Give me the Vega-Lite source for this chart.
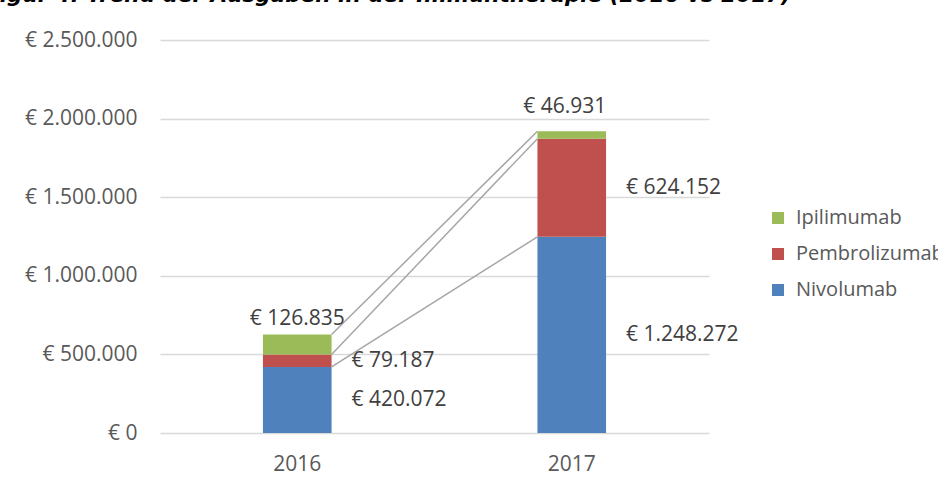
{
  "$schema": "https://vega.github.io/schema/vega-lite/v6.json",
  "autosize": "none",
  "width": 549,
  "height": 393,
  "padding": {"left": 160, "top": 40, "right": 229, "bottom": 54},
  "background": "white",
  "title": {
    "text": "Figur 4: Trend der Ausgaben in der Immuntherapie (2016 vs 2017)",
    "anchor": "start",
    "frame": "group",
    "font": "DejaVu Sans",
    "fontSize": 21.5,
    "fontWeight": "bold",
    "fontStyle": "italic",
    "color": "#000000",
    "baseline": "alphabetic",
    "offset": 0,
    "dx": -175,
    "dy": -6
  },
  "config": {
    "locale": {"number": {"decimal": ",", "thousands": ".", "grouping": [3], "currency": ["€ ", ""]}},
    "view": {"stroke": null},
    "font": "Open Sans"
  },
  "data": {
    "values": [
      {"year": "2016", "drug": "Nivolumab", "value": 420072},
      {"year": "2016", "drug": "Pembrolizumab", "value": 79187},
      {"year": "2016", "drug": "Ipilimumab", "value": 126835},
      {"year": "2017", "drug": "Nivolumab", "value": 1248272},
      {"year": "2017", "drug": "Pembrolizumab", "value": 624152},
      {"year": "2017", "drug": "Ipilimumab", "value": 46931}
    ]
  },
  "transform": [
    {"calculate": "indexof(['Nivolumab','Pembrolizumab','Ipilimumab'], datum.drug)", "as": "ord"},
    {"stack": "value", "groupby": ["year"], "sort": [{"field": "ord", "order": "ascending"}], "as": ["v0", "v1"]},
    {"calculate": "(datum.v0 + datum.v1) / 2", "as": "mid"}
  ],
  "encoding": {
    "x": {
      "field": "year",
      "type": "nominal",
      "scale": {"paddingInner": 0.75, "paddingOuter": 0.375},
      "axis": {
        "title": null,
        "labelAngle": 0,
        "domain": false,
        "ticks": false,
        "labelFont": "Open Sans",
        "labelFontSize": 21,
        "labelColor": "#595959",
        "labelPadding": 20
      }
    }
  },
  "layer": [
    {
      "mark": {"type": "bar"},
      "encoding": {
        "y": {
          "field": "v0",
          "type": "quantitative",
          "scale": {"domain": [0, 2500000], "nice": false},
          "axis": {
            "title": null,
            "values": [0, 500000, 1000000, 1500000, 2000000, 2500000],
            "labelExpr": "'€ ' + format(datum.value, ',')",
            "domain": false,
            "ticks": false,
            "grid": true,
            "gridColor": "#d9d9d9",
            "gridWidth": 1.3,
            "labelFont": "Open Sans",
            "labelFontSize": 21,
            "labelColor": "#595959",
            "labelPadding": 23
          }
        },
        "y2": {"field": "v1"},
        "color": {
          "field": "drug",
          "type": "nominal",
          "scale": {
            "domain": ["Nivolumab", "Pembrolizumab", "Ipilimumab"],
            "range": ["#4F81BD", "#C0504D", "#9BBB59"]
          },
          "legend": {
            "title": null,
            "orient": "none",
            "legendX": 608,
            "legendY": 168,
            "values": ["Ipilimumab", "Pembrolizumab", "Nivolumab"],
            "symbolType": "square",
            "symbolSize": 144,
            "symbolStrokeWidth": 0,
            "labelFont": "Open Sans",
            "labelFontSize": 20,
            "labelColor": "#595959",
            "labelOffset": 8,
            "rowPadding": 16,
            "labelLimit": 400
          }
        }
      }
    },
    {
      "data": {
        "values": [
          {"from": "2016", "to": "2017", "start": 420072, "end": 1248272},
          {"from": "2016", "to": "2017", "start": 499259, "end": 1872424},
          {"from": "2016", "to": "2017", "start": 626094, "end": 1919355}
        ]
      },
      "transform": [],
      "mark": {"type": "rule", "color": "#a6a6a6", "strokeWidth": 1.5},
      "encoding": {
        "x": {"field": "from", "type": "nominal", "bandPosition": 1},
        "x2": {"field": "to", "bandPosition": 0},
        "y": {"field": "start", "type": "quantitative"},
        "y2": {"field": "end"}
      }
    },
    {
      "transform": [{"filter": "datum.drug !== 'Ipilimumab'"}],
      "mark": {"type": "text", "align": "left", "baseline": "middle", "dx": 20, "fontSize": 21, "font": "Open Sans", "color": "#404040"},
      "encoding": {
        "x": {"field": "year", "type": "nominal", "bandPosition": 1},
        "y": {"field": "mid", "type": "quantitative"},
        "text": {"field": "value", "type": "quantitative", "format": "$,"}
      }
    },
    {
      "transform": [{"filter": "datum.drug === 'Ipilimumab' && datum.year === '2016'"}],
      "mark": {"type": "text", "align": "center", "baseline": "middle", "dy": -16, "fontSize": 21, "font": "Open Sans", "color": "#404040"},
      "encoding": {
        "x": {"field": "year", "type": "nominal", "bandPosition": 0.5},
        "y": {"field": "v1", "type": "quantitative"},
        "text": {"field": "value", "type": "quantitative", "format": "$,"}
      }
    },
    {
      "transform": [{"filter": "datum.drug === 'Ipilimumab' && datum.year === '2017'"}],
      "mark": {"type": "text", "align": "center", "baseline": "middle", "dy": -24, "dx": -7, "fontSize": 21, "font": "Open Sans", "color": "#404040"},
      "encoding": {
        "x": {"field": "year", "type": "nominal", "bandPosition": 0.5},
        "y": {"field": "v1", "type": "quantitative"},
        "text": {"field": "value", "type": "quantitative", "format": "$,"}
      }
    }
  ]
}
